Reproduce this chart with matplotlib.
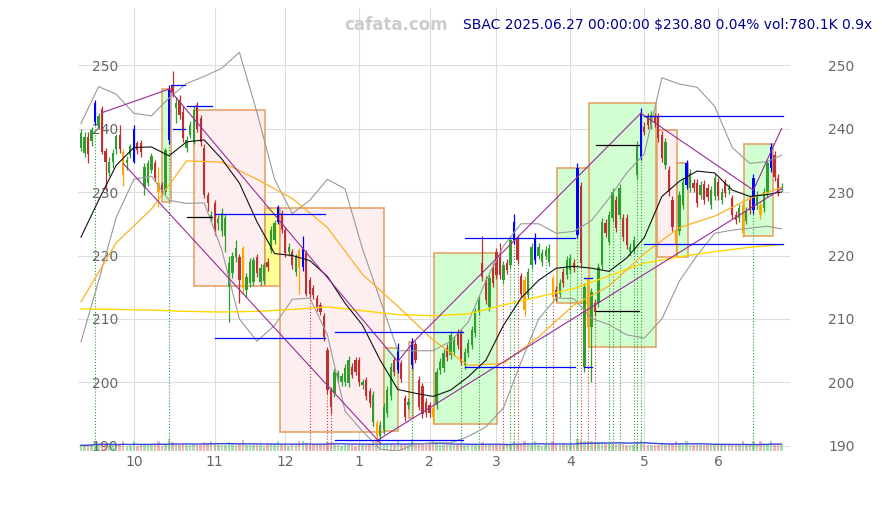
import numpy as np
import pandas as pd
import matplotlib
matplotlib.use('Agg')
import matplotlib.pyplot as plt
from matplotlib.patches import Rectangle

# trading days Sep 10 2024 .. Jun 27 2025
holidays = ['2024-11-28', '2024-12-25', '2025-01-01', '2025-01-09', '2025-01-20',
            '2025-02-17', '2025-04-18', '2025-05-26', '2025-06-19']
dates = pd.bdate_range('2024-09-10', '2025-06-27')
dates = dates[~dates.isin(pd.to_datetime(holidays))]

opens = [237.0, 236.1, 238.7, 238.0, 241.0, 240.5, 243.0, 236.5, 233.0, 234.8,
         236.7, 239.0, 236.3, 234.5, 235.8, 234.8, 237.7, 237.7, 230.8, 231.4,
         233.5, 234.5, 231.4, 231.1, 230.0, 238.2, 246.9, 243.2, 244.5, 242.6,
         236.9, 239.0, 237.9, 243.7, 241.7, 236.9, 229.5, 225.9, 228.3, 225.1,
         223.8, 223.0, 215.1, 217.2, 219.8, 219.8, 221.2, 214.6, 215.7, 215.8,
         219.8, 215.8, 216.0, 219.0, 220.9, 222.4, 225.3, 226.7, 224.0, 220.6,
         220.6, 217.4, 220.9, 218.2, 220.4, 216.1, 214.9, 213.3, 212.2, 210.4,
         205.1, 198.8, 198.3, 200.4, 200.0, 200.0, 199.9, 202.5, 203.5, 203.5,
         199.6, 200.4, 198.6, 193.8, 193.6, 191.5, 192.5, 195.2, 197.8, 203.5,
         202.0, 203.0, 197.5, 196.5, 202.8, 206.0, 200.4, 199.4, 197.0, 196.5,
         196.0, 196.5, 202.0, 202.3, 205.4, 204.3, 204.8, 207.8, 207.8, 202.8,
         204.6, 205.9, 207.8, 211.2, 218.8, 216.1, 211.9, 218.2, 220.6, 219.8,
         216.1, 218.8, 218.5, 222.4, 222.7, 216.7, 216.1, 213.8, 218.5, 219.3,
         220.0, 219.0, 220.0, 219.0, 216.4, 214.6, 214.0, 217.4, 216.9, 217.7,
         218.8, 223.2, 230.9, 202.5, 216.4, 208.8, 212.5, 212.5, 218.5, 225.1,
         222.2, 225.9, 228.7, 226.4, 225.9, 225.9, 220.6, 220.9, 232.7, 235.5,
         240.3, 241.9, 240.5, 241.9, 241.9, 239.0, 234.3, 233.5, 228.7, 223.8,
         223.8, 228.0, 231.1, 230.6, 231.4, 231.4, 229.5, 231.3, 230.6, 228.0,
         229.3, 231.6, 228.7, 231.4, 230.3, 229.0, 226.4, 225.9, 228.0, 225.5,
         228.7, 227.2, 228.0, 228.0, 227.5, 229.8, 233.8, 235.8, 232.2, 230.6]
closes = [239.3, 238.7, 236.0, 239.8, 244.0, 241.9, 236.3, 234.8, 234.8, 236.2,
          238.8, 236.7, 232.7, 235.0, 237.2, 240.0, 236.6, 236.3, 234.0, 234.5,
          235.6, 232.2, 230.0, 230.0, 236.6, 246.0, 245.8, 244.0, 242.1, 238.5,
          238.2, 240.6, 242.9, 240.0, 237.9, 229.5, 228.3, 226.4, 223.8, 225.7,
          226.7, 225.9, 218.8, 220.0, 221.2, 216.1, 214.9, 216.6, 219.0, 219.3,
          217.2, 218.0, 218.5, 218.2, 224.0, 225.1, 227.6, 224.0, 220.4, 221.4,
          218.5, 219.8, 218.2, 221.1, 214.0, 214.0, 213.8, 211.9, 211.1, 207.2,
          198.8, 196.2, 201.7, 201.5, 201.0, 202.3, 203.5, 201.2, 201.7, 200.0,
          200.0, 197.8, 196.7, 198.0, 191.5, 193.3, 196.2, 198.8, 202.5, 201.7,
          205.4, 200.5, 194.5, 197.0, 206.4, 203.5, 196.2, 195.0, 195.2, 195.2,
          194.6, 201.7, 203.3, 204.6, 204.0, 207.5, 206.7, 205.9, 203.3, 204.8,
          206.2, 208.3, 211.2, 213.0, 216.6, 213.0, 216.4, 215.7, 216.9, 216.9,
          218.5, 217.7, 222.4, 225.3, 219.3, 214.0, 211.4, 217.4, 221.4, 222.7,
          221.4, 220.4, 220.9, 221.2, 213.5, 213.5, 215.7, 215.7, 219.3, 219.6,
          218.0, 233.8, 218.8, 215.1, 208.7, 214.3, 211.1, 218.2, 225.3, 223.5,
          226.4, 230.0, 224.3, 230.6, 222.9, 221.7, 221.4, 222.4, 237.4, 242.4,
          239.5, 240.5, 242.1, 240.8, 238.5, 235.4, 237.9, 230.0, 224.5, 221.7,
          229.5, 231.6, 234.5, 233.0, 230.6, 228.3, 231.1, 228.7, 229.2, 230.3,
          232.2, 229.3, 230.0, 229.8, 230.7, 226.4, 225.6, 227.5, 223.5, 227.0,
          227.2, 232.2, 229.5, 226.4, 230.0, 234.5, 237.1, 232.4, 230.0, 230.8]
highs = [240.0, 239.5, 239.5, 240.3, 244.5, 242.5, 243.6, 237.0, 235.5, 236.8,
         239.2, 240.5, 236.8, 235.6, 237.6, 240.6, 238.0, 238.2, 234.5, 235.0,
         236.2, 235.0, 234.0, 231.6, 237.0, 246.8, 249.0, 245.0, 245.2, 243.5,
         238.8, 241.2, 243.5, 244.2, 242.2, 237.5, 230.0, 227.0, 228.8, 226.3,
         227.5, 226.5, 220.0, 220.6, 222.5, 220.3, 221.5, 217.2, 219.6, 219.8,
         220.3, 218.6, 219.0, 219.6, 224.6, 225.6, 228.0, 227.2, 224.5, 222.0,
         221.1, 220.3, 221.2, 223.0, 220.8, 216.6, 215.3, 213.8, 212.6, 210.9,
         205.6, 199.3, 202.2, 202.0, 201.5, 202.9, 204.1, 203.0, 204.0, 204.0,
         200.6, 200.9, 199.1, 198.6, 194.1, 193.9, 196.8, 199.4, 203.1, 204.0,
         206.2, 203.6, 198.0, 197.6, 207.0, 206.6, 201.0, 199.9, 197.6, 197.0,
         196.5, 202.3, 203.9, 205.2, 206.0, 208.1, 207.3, 208.4, 208.4, 205.4,
         206.8, 208.9, 211.8, 213.6, 223.0, 216.7, 217.0, 218.8, 221.2, 222.0,
         219.1, 219.4, 223.0, 226.5, 223.3, 217.3, 216.7, 218.0, 222.0, 223.5,
         222.0, 221.0, 221.5, 221.8, 217.0, 215.2, 216.3, 218.0, 219.9, 220.2,
         219.4, 234.5, 231.5, 215.7, 217.0, 214.9, 213.1, 218.8, 225.9, 225.7,
         227.0, 230.6, 229.3, 231.2, 226.5, 226.5, 222.0, 223.0, 238.0, 243.2,
         241.0, 242.5, 242.7, 242.5, 242.5, 239.6, 238.5, 234.1, 229.3, 224.4,
         230.1, 232.2, 235.1, 233.6, 232.0, 232.0, 231.7, 231.9, 231.2, 230.9,
         232.8, 232.2, 230.6, 232.0, 231.3, 229.6, 227.0, 228.1, 228.6, 227.6,
         229.3, 232.8, 230.1, 228.6, 230.6, 235.1, 237.7, 236.4, 232.8, 231.4]
lows = [236.5, 235.5, 234.5, 237.2, 240.5, 240.0, 236.0, 230.3, 232.5, 233.8,
        236.0, 236.2, 231.0, 233.5, 235.3, 234.5, 236.0, 235.5, 229.5, 231.0,
        233.0, 231.8, 227.7, 229.5, 229.7, 237.5, 245.0, 240.9, 241.5, 237.8,
        236.3, 238.5, 237.5, 239.5, 237.3, 229.0, 227.0, 225.3, 223.3, 224.0,
        223.0, 220.5, 209.5, 216.5, 219.0, 212.5, 214.0, 213.5, 215.0, 215.2,
        216.6, 215.2, 215.5, 217.6, 220.4, 221.8, 225.0, 223.6, 219.8, 220.0,
        217.8, 216.8, 214.0, 217.5, 213.6, 213.5, 213.2, 211.3, 210.6, 206.6,
        198.2, 195.0, 197.7, 199.9, 199.5, 199.4, 199.3, 200.7, 201.2, 199.5,
        199.0, 197.2, 196.1, 193.2, 190.4, 190.9, 191.9, 194.6, 197.2, 201.1,
        201.5, 200.0, 193.9, 195.9, 202.2, 203.0, 195.6, 194.4, 194.6, 194.6,
        193.6, 195.9, 201.4, 201.7, 203.4, 203.7, 204.2, 205.3, 202.7, 202.2,
        204.0, 205.3, 207.2, 210.6, 216.0, 212.4, 211.3, 215.1, 216.3, 216.3,
        215.5, 217.1, 217.9, 221.8, 218.7, 213.4, 210.5, 213.2, 217.9, 218.7,
        219.4, 218.4, 219.4, 218.4, 212.5, 212.9, 213.4, 215.1, 216.3, 217.1,
        217.4, 222.8, 218.2, 201.6, 205.5, 200.1, 210.5, 211.9, 217.9, 222.9,
        221.6, 225.3, 223.7, 225.8, 222.3, 221.1, 220.0, 220.3, 232.1, 235.0,
        238.9, 239.9, 239.9, 240.2, 237.9, 234.8, 233.7, 229.4, 223.9, 220.0,
        223.2, 227.4, 230.5, 230.0, 230.0, 227.7, 228.9, 228.1, 228.6, 227.4,
        228.7, 228.7, 228.1, 229.2, 229.7, 225.8, 225.0, 225.3, 222.9, 224.9,
        226.6, 226.6, 227.4, 225.8, 226.9, 229.2, 233.2, 231.8, 229.4, 230.2]
volumes = [820, 760, 900, 840, 1450, 800, 1100, 950, 870, 780,
           760, 900, 1380, 720, 700, 1420, 760, 820, 1000, 880,
           800, 820, 1350, 760, 1050, 1700, 1200, 950, 880, 990,
           900, 850, 940, 880, 900, 1250, 1100, 1400, 1000, 820,
           860, 900, 1300, 950, 820, 1000, 1500, 880, 900, 860,
           820, 800, 760, 780, 1000, 950, 1450, 880, 900, 760,
           820, 780, 1400, 1350, 1100, 1000, 900, 860, 880, 1000,
           1300, 1250, 1000, 840, 760, 800, 900, 780, 760, 880,
           820, 900, 940, 1100, 1600, 1200, 1050, 1000, 980, 900,
           1380, 880, 1000, 860, 1420, 900, 1050, 920, 840, 860,
           1350, 1000, 900, 860, 820, 900, 880, 820, 920, 860,
           820, 900, 1000, 950, 1250, 1000, 950, 900, 960, 1000,
           900, 820, 980, 1400, 900, 1000, 1380, 940, 900, 1350,
           820, 760, 780, 800, 1400, 1000, 860, 920, 900, 880,
           900, 1700, 1500, 1400, 1450, 1350, 1300, 1250, 1200, 1000,
           1000, 980, 950, 1000, 960, 900, 840, 900, 1300, 1500,
           1000, 900, 820, 860, 880, 940, 900, 1000, 1050, 1400,
           1050, 900, 1380, 880, 800, 860, 820, 840, 800, 880,
           900, 820, 800, 860, 780, 900, 860, 820, 1400, 880,
           840, 1450, 860, 1350, 880, 1000, 1420, 900, 860, 780]

blue_idx = [4, 15, 25, 56, 63, 90, 94, 123, 129, 141, 159, 172, 191, 196]
orange_idx = [12, 22, 46, 62, 84, 100, 126, 134, 144, 169, 188, 193]
buy_sig = [4, 25, 94, 108, 113, 122, 123, 128, 132, 139, 141, 150, 151, 153, 157, 158, 159, 191]
sell_sig = [65, 70, 71, 120, 124, 134, 142, 144, 146]

# indicator lines (index, value)
ma_x = [0, 5, 10, 15, 20, 25, 30, 35, 40, 45, 50, 55, 60, 65, 70, 75, 80, 85, 90, 95,
        100, 105, 110, 115, 120, 125, 130, 135, 140, 145, 150, 155, 160, 165, 170, 175,
        180, 185, 190, 195, 199]
ma_mid = [222.9, 228.7, 234.2, 237.0, 237.1, 235.7, 237.9, 238.2, 235.2, 231.4, 225.3,
          220.3, 220.0, 219.2, 216.7, 212.5, 209.0, 203.5, 198.9, 198.3, 197.8, 198.8,
          200.9, 203.5, 209.0, 213.3, 216.1, 218.0, 218.3, 218.0, 217.5, 219.6, 222.8,
          229.3, 231.7, 233.3, 233.0, 230.3, 229.3, 229.6, 230.0]
band_up = [240.8, 246.6, 245.4, 242.4, 242.0, 244.8, 247.1, 248.2, 249.5, 252.0, 242.5,
           232.0, 226.6, 228.7, 232.0, 230.5, 221.0, 213.0, 205.0, 205.0, 205.0, 206.5,
           209.5, 216.0, 221.5, 225.0, 225.0, 223.5, 223.8, 225.5, 229.0, 233.0, 236.0,
           248.0, 247.0, 246.5, 243.5, 237.0, 234.5, 234.8, 235.8]
band_dn = [206.4, 216.0, 226.0, 232.0, 232.5, 228.7, 228.2, 228.3, 220.9, 210.0, 206.5,
           209.0, 213.1, 213.3, 207.5, 195.5, 192.3, 189.5, 189.2, 190.3, 190.5, 190.5,
           191.5, 193.0, 196.0, 203.2, 210.0, 213.3, 213.2, 210.1, 209.1, 207.5, 207.0,
           210.0, 216.0, 220.0, 223.5, 224.0, 224.3, 224.6, 224.2]
slow_x = [0, 10, 20, 30, 40, 50, 60, 70, 80, 90, 100, 110, 120, 130, 140, 150, 160, 170,
          180, 190, 199]
ma_orange = [212.7, 222.0, 227.3, 234.9, 234.7, 232.0, 229.0, 224.4, 217.0, 212.0, 206.7,
             202.7, 203.0, 207.2, 212.2, 215.2, 220.3, 224.4, 226.2, 229.0, 230.7]
ma_yellow = [211.6, 211.5, 211.4, 211.2, 211.1, 211.2, 211.5, 211.9, 211.3, 210.7, 210.5,
             210.8, 212.2, 213.5, 214.8, 216.8, 218.8, 219.8, 220.6, 221.3, 221.7]

# boxes: (left idx, right idx, low, high, kind)
boxes = [(23.0, 25.5, 228.5, 246.2, 'up'), (32.1, 52.4, 215.2, 242.9, 'down'),
         (52.4, 56.4, 215.2, 227.5, 'flat'), (56.4, 86.1, 192.2, 227.5, 'down'),
         (86.1, 90.1, 192.3, 205.4, 'up'), (93.2, 94.3, 194.4, 206.4, 'up'),
         (100.3, 118.2, 193.5, 220.4, 'up'), (135.2, 144.6, 212.5, 233.8, 'up'),
         (144.3, 163.4, 205.6, 244.0, 'up'), (163.5, 169.3, 219.8, 239.8, 'down'),
         (169.3, 172.4, 219.8, 234.6, 'up'), (188.4, 196.6, 223.1, 237.6, 'up')]
# trend lines: (idx0, v0, idx1, v1)
trends = [(6, 242.5, 25, 246.2), (25, 246.2, 90, 203.3), (12, 234.5, 85, 190.5),
          (90, 203.3, 94.5, 206.4), (94.5, 206.4, 159, 242.4), (84.5, 191.0, 199, 230.5),
          (159, 242.4, 191, 230.3), (191, 230.3, 199, 240.0)]
# level segments: (idx0, idx1, value, colour)
levels = [(25.5, 29.5, 246.9, 'blue'), (26.0, 29.5, 240.0, 'blue'),
          (30.2, 37.2, 243.5, 'blue'), (30.2, 37.2, 226.1, 'black'),
          (38.0, 69.3, 226.5, 'blue'), (38.0, 69.3, 207.0, 'blue'),
          (72.2, 108.5, 207.9, 'blue'), (72.2, 108.5, 190.9, 'blue'),
          (109.0, 140.3, 222.7, 'blue'), (109.0, 140.3, 202.5, 'blue'),
          (143.0, 145.2, 216.4, 'blue'), (143.0, 145.2, 202.5, 'blue'),
          (146.4, 158.4, 237.4, 'black'), (146.4, 158.4, 211.3, 'black'),
          (160.0, 199.4, 241.9, 'blue'), (160.0, 199.4, 221.8, 'blue')]

o = np.array(opens); c = np.array(closes); h = np.array(highs); l = np.array(lows)
v = np.array(volumes, dtype=float)
x = np.arange(len(c))

fig = plt.figure(figsize=(8.82, 5.05), dpi=100)
ax = fig.add_axes([78 / 882, 1 - 451 / 505, 712 / 882, 443 / 505])
ymin, ymax = 189.21, 258.98
ax.set_xlim(-0.85, 201.4)
ax.set_ylim(ymin, ymax)

GREEN, RED = '#2e9e2e', '#c03030'
cols = np.where(c >= o, GREEN, RED).astype(object)
for i in blue_idx:
    cols[i] = '#0000ff'
for i in orange_idx:
    cols[i] = '#ffa500'

# boxes
fills = {'up': '#ccffcc', 'down': '#fdeeee', 'flat': '#ffff88'}
for x0, x1, lo, hi, kind in boxes:
    ax.add_patch(Rectangle((x0, lo), x1 - x0, hi - lo, facecolor=fills[kind],
                           edgecolor='#e39a5a', lw=1.2, alpha=0.9, zorder=1))

# volume at the floor
vh = v / v.max() * 1.9
ax.bar(x, vh, bottom=ymin, width=0.7,
       color=np.where(c >= o, '#6abf6a', '#e07a7a'), alpha=0.55, zorder=2)
vma = pd.Series(vh).rolling(20, min_periods=1).mean()
ax.plot(x, ymin + vma, color='#3344dd', lw=1.0, zorder=2)

# signal drop lines
ax.vlines(buy_sig, ymin, l[buy_sig], colors='#2e9e2e', linestyles=':', lw=0.8, zorder=2)
ax.vlines(sell_sig, ymin, l[sell_sig], colors='#d04040', linestyles=':', lw=0.8, zorder=2)

# candles
ax.vlines(x, l, h, colors=list(cols), lw=0.9, zorder=3)
body = np.maximum(np.abs(c - o), 0.15)
ax.bar(x, body, bottom=np.minimum(o, c), width=0.65, color=list(cols), zorder=3)

# indicator lines
ax.plot(ma_x, band_up, color='#999999', lw=0.8, zorder=4)
ax.plot(ma_x, band_dn, color='#999999', lw=0.8, zorder=4)
ax.plot(slow_x, ma_yellow, color='#ffd700', lw=1.0, zorder=4)
ax.plot(slow_x, ma_orange, color='#ffb020', lw=0.9, zorder=4)
ax.plot(ma_x, ma_mid, color='#111111', lw=0.8, zorder=4)

for i0, v0, i1, v1 in trends:
    ax.plot([i0, i1], [v0, v1], color='#9a2a9a', lw=0.8, zorder=4)
for i0, i1, val, col in levels:
    ax.plot([i0, i1], [val, val], color=col, lw=0.9, zorder=4)

# axes cosmetics
month_pos = [i for i in range(1, len(dates)) if dates[i].month != dates[i - 1].month]
ax.set_xticks(month_pos)
ax.set_xticklabels([str(dates[i].month) for i in month_pos])
ax.set_yticks(range(190, 251, 10))
ax.grid(True, color='#dddddd', lw=0.8, zorder=0)
ax.set_axisbelow(True)
for s in ax.spines.values():
    s.set_visible(False)
ax.tick_params(axis='both', length=0, colors='#666666', labelsize=10)
ax.tick_params(axis='y', pad=-28.8)
ax.tick_params(axis='x', pad=3)

ax2 = ax.twinx()
ax2.set_ylim(ymin, ymax)
ax2.set_yticks(range(190, 251, 10))
for s in ax2.spines.values():
    s.set_visible(False)
ax2.tick_params(axis='y', length=0, colors='#666666', labelsize=10, pad=27.4)

fig.text(448 / 882, 1 - 25 / 505, 'cafata.com', ha='right', va='center',
         color='#cccccc', fontsize=12, fontweight='bold')
fig.text(872 / 882, 1 - 25 / 505, 'SBAC 2025.06.27 00:00:00 $230.80 0.04% vol:780.1K 0.9x',
         ha='right', va='center', color='#00008b', fontsize=10)

fig.savefig('out.png', dpi=100)
